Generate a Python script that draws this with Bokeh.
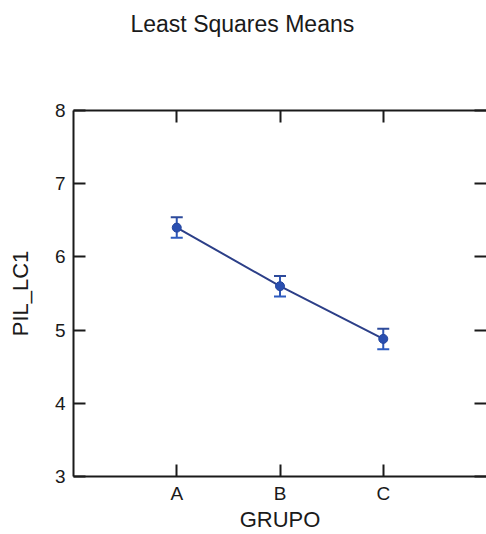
from bokeh.plotting import figure
from bokeh.models import ColumnDataSource, Whisker, LinearAxis, Range1d, FixedTicker, TeeHead, CustomJSTickFormatter, Title
from bokeh.embed import file_html
from bokeh.resources import INLINE

groups = ["A", "B", "C"]
means = [6.40, 5.60, 4.88]
errs = [0.14, 0.14, 0.14]
y_ticks = [3, 4, 5, 6, 7, 8]
title = "Least Squares Means"

xs = list(range(1, len(groups) + 1))
src = ColumnDataSource(dict(
    x=xs, y=means,
    lo=[m - e for m, e in zip(means, errs)],
    hi=[m + e for m, e in zip(means, errs)],
))

FONT = "Liberation Sans"
INK = "#1a1a1a"

p = figure(width=486, height=534, output_backend="svg", toolbar_location=None,
           x_range=Range1d(0, len(groups) + 1), y_range=Range1d(3, 8),
           min_border_left=73, min_border_top=110, min_border_bottom=50, min_border_right=0,
           outline_line_color=None, background_fill_color="white", border_fill_color="white")
p.title.visible = False

p.xgrid.visible = False
p.ygrid.visible = False

xt = FixedTicker(ticks=xs)
yt = FixedTicker(ticks=y_ticks)
overrides = {x: g for x, g in zip(xs, groups)}

def style(ax, ticker, labels=True):
    ax.ticker = ticker
    ax.minor_tick_line_color = None
    ax.major_tick_in = 12
    ax.major_tick_out = 0
    ax.major_tick_line_width = 2
    ax.major_tick_line_color = INK
    ax.axis_line_width = 2
    ax.axis_line_color = INK
    ax.major_label_text_font = FONT
    ax.major_label_text_font_size = "19px"
    ax.major_label_text_color = INK
    ax.axis_label_text_font = FONT
    ax.axis_label_text_font_size = "22px"
    ax.axis_label_text_font_style = "normal"
    ax.axis_label_text_color = INK
    if not labels:
        ax.formatter = CustomJSTickFormatter(code="return ''")
        ax.major_label_standoff = 0

xa = p.xaxis[0]
style(xa, xt)
xa.major_label_overrides = overrides
xa.major_label_standoff = 6
xa.axis_label = "GRUPO"
xa.axis_label_standoff = 0

ya = p.yaxis[0]
style(ya, yt)
ya.major_label_standoff = 8
ya.axis_label = "PIL_LC1"
ya.axis_label_standoff = 19

top = LinearAxis()
style(top, xt, labels=False)
p.add_layout(top, "above")

# invisible spacer axis between the top border and the title
spacer = LinearAxis(ticker=FixedTicker(ticks=[2]), axis_line_color=None, major_tick_line_color=None,
                    minor_tick_line_color=None, major_tick_in=0, major_tick_out=74,
                    formatter=CustomJSTickFormatter(code="return ''"), major_label_standoff=0)
p.add_layout(spacer, "above")

ttl = Title(text=title, align="left", offset=57, standoff=0, text_font=FONT,
            text_font_size="23px", text_font_style="normal", text_color=INK)
p.add_layout(ttl, "above")

right = LinearAxis()
style(right, yt, labels=False)
right.axis_line_color = None
p.add_layout(right, "right")

p.line("x", "y", source=src, line_color="#2c3f88", line_width=2)
w = Whisker(base="x", lower="lo", upper="hi", source=src, line_color="#2d55b5", line_width=2,
            upper_head=TeeHead(size=12, line_color="#2d4a9a", line_width=2),
            lower_head=TeeHead(size=12, line_color="#2d5bc0", line_width=2))
p.add_layout(w)
p.scatter("x", "y", source=src, size=9, fill_color="#2a4fb0", line_color="#24459e")

open("out.html", "w").write(file_html(p, INLINE))
